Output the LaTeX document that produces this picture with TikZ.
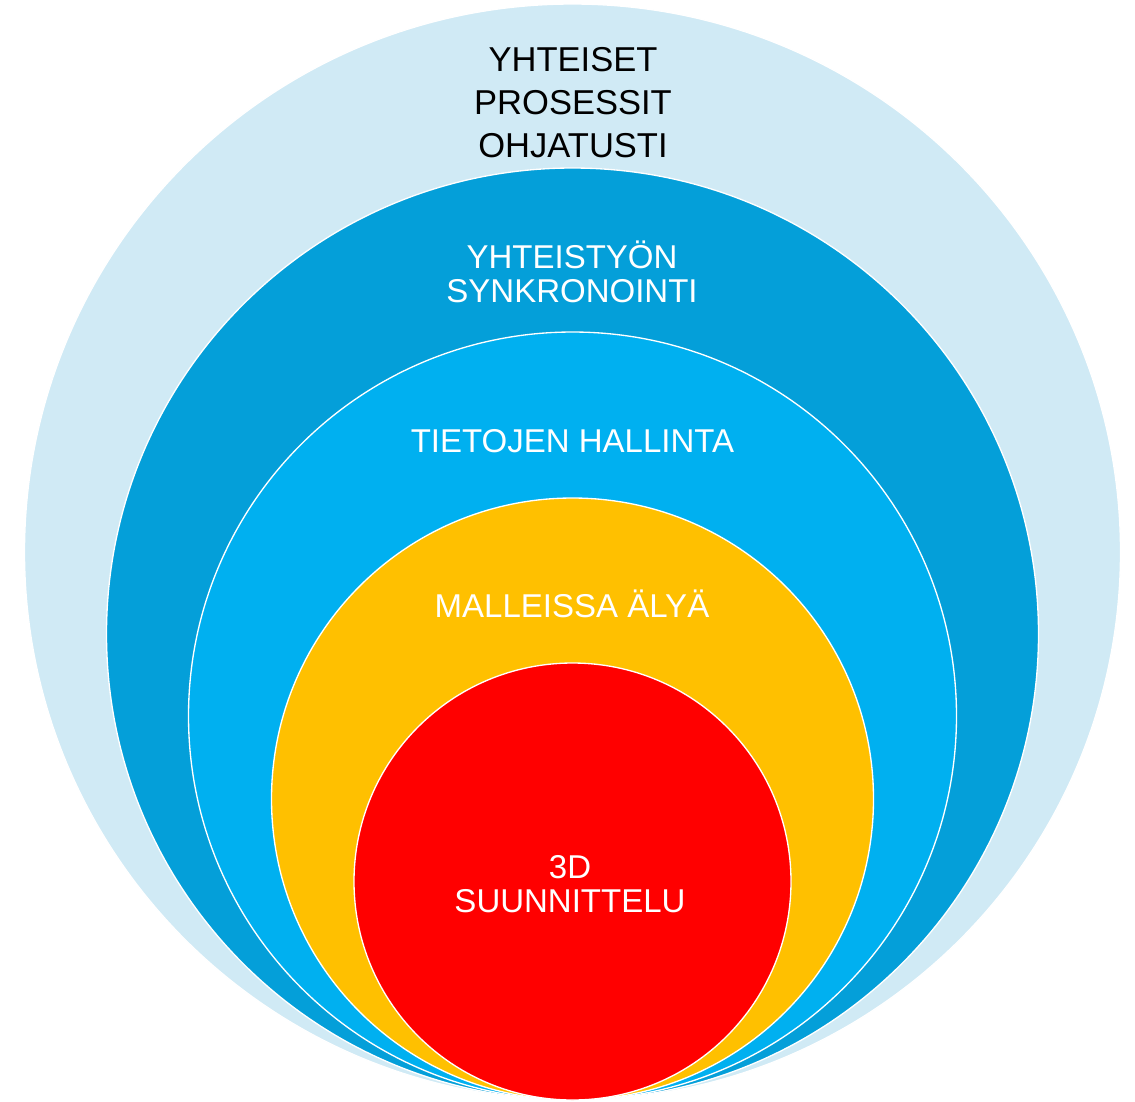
\documentclass[tikz,border=0pt]{standalone}
\usepackage{fontspec}
\setmainfont{Liberation Sans}
\usetikzlibrary{positioning}
\definecolor{paleblue}{HTML}{D0EAF5}
\definecolor{deepblue}{HTML}{049FD9}
\definecolor{skyblue}{HTML}{00B0F0}
\definecolor{gold}{HTML}{FFC000}
\definecolor{hotred}{HTML}{FF0000}
\tikzstyle{every node}=[inner sep=0pt]
\tikzstyle{ring} = [circle, draw=white, line width=1pt]
\tikzstyle{ringtext} = [anchor=base, align=center, text=white, font=\fontsize{24.75pt}{25.5pt}\selectfont]

\begin{document}
\begin{tikzpicture}[x=0.75pt, y=-0.75pt]
        \useasboundingbox (0,0) rectangle (1135,1101);
        \node (common) [ring, fill=paleblue, minimum size=822pt] at (572.5,552) {};
        \node (sync) [ring, fill=deepblue, minimum size=699pt] at (572.5,634) {};
        \node (data) [ring, fill=skyblue, minimum size=576pt] at (572.5,716) {};
        \node (smart) [ring, fill=gold, minimum size=451.5pt] at (572.5,799) {};
        \node (design) [ring, fill=hotred, minimum size=327.75pt] at (572.5,881.5) {};

        % base anchor sits on the last line
        \node (commontxt) [ringtext, text=black, font=\fontsize{25.9pt}{31.9pt}\selectfont] at (573,157) {YHTEISET\\PROSESSIT\\OHJATUSTI};
        \node (synctxt) [ringtext] at (572,302) {YHTEISTYÖN\\SYNKRONOINTI};
        \node (datatxt) [ringtext] at (572.5,452) {TIETOJEN HALLINTA};
        \node (smarttxt) [ringtext] at (572,617) {MALLEISSA ÄLYÄ};
        \node (designtxt) [ringtext] at (570,912) {3D\\SUUNNITTELU};
      \end{tikzpicture}
\end{document}
